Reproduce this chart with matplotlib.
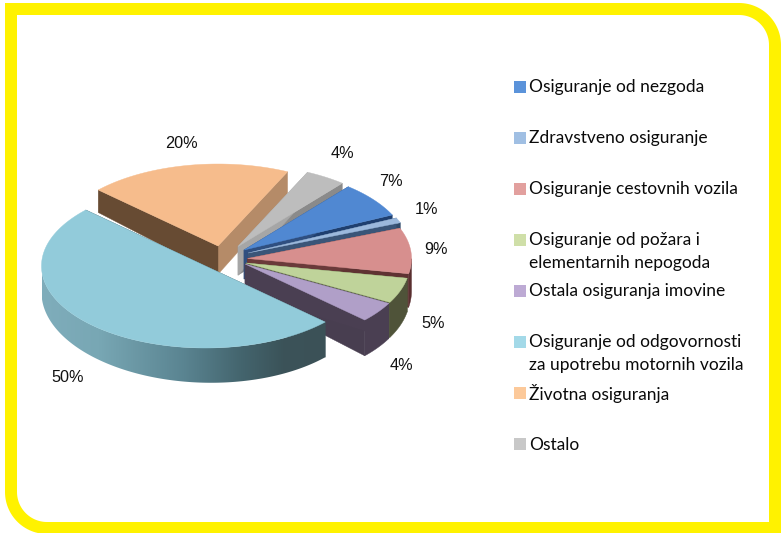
import numpy as np
import matplotlib
matplotlib.use("Agg")
import matplotlib.pyplot as plt
from matplotlib.patches import Polygon, Rectangle
from matplotlib.colors import LinearSegmentedColormap

# ---- data ----
categories = ["Osiguranje od nezgoda", "Zdravstveno osiguranje", "Osiguranje cestovnih vozila",
              "Osiguranje od požara i\nelementarnih nepogoda", "Ostala osiguranja imovine",
              "Osiguranje od odgovornosti\nza upotrebu motornih vozila", "Životna osiguranja", "Ostalo"]
values = [7, 1, 9, 5, 4, 50, 20, 4]
value_labels = ["7%", "1%", "9%", "5%", "4%", "50%", "20%", "4%"]

# ---- styles / layout ----
top_colors = ["#5088d2", "#9bb8dc", "#d78f8e", "#bfd39a", "#b09fc8", "#92cbda", "#f6bc8c", "#bdbdbd"]
legend_colors = ["#5b93da", "#a0bfe3", "#e2a09e", "#cfdfa8", "#bdaad4", "#a3d9e8", "#fcc99a", "#c8c8c8"]
start_face = ["#2f4f80", "#3a5578", "#6a3a3a", "#565f3e", "#4a3f52", "#3c5359", "#674b33", "#a6a6a6"]
end_face = ["#1f3f6f", "#2f4a6a", "#5f3232", "#4b5536", "#483e50", "#3c5359", "#b58b68", "#8a8a8a"]
rim_colors = ["#2f4f80", "#3a5578", "#5a2f30", "#4f5339", "#4a3f52", None, "#674b33", "#8a8a8a"]
draw_rank = [3, 4, 5, 6, 7, 8, 1, 2]
center = (245.0, 255.0)
shift_x = [-1, 3, 2.5, 1, 0, -39.5, -27, -7]
shift_y = [-5, -2, 3.5, 8, 9, 11, -9, -8.5]
radius, squash, start_angle = 164.0, 0.5, 50.5
label_xy = [(391, 181), (427, 210), (436, 249.5), (433, 323), (401, 365), (68, 377.5), (181, 143), (342, 153)]
legend_rows = [86.5, 137.5, 188.5, 239.5, 290.5, 341.5, 393, 444]
FONT_PIE = "Liberation Sans"
FONT_LEG = "Lato"
W, H = 784, 533


def depth(x, y):
    return 22.5 + 0.065 * (y - 190) + 0.018 * (x - 97)


fig = plt.figure(figsize=(W / 100, H / 100), dpi=100, facecolor="white")
ax = fig.add_axes([0, 0, 1, 1])
ax.set_xlim(0, W)
ax.set_ylim(H, 0)
ax.axis("off")

# frame: square top-left and bottom-right, rounded top-right and bottom-left
L, T, R, B, r = 11, 9, 775, 528, 36
a1 = np.radians(np.linspace(90, 0, 30))
a2 = np.radians(np.linspace(270, 180, 30))
fx = np.r_[L, R - r + r * np.cos(a1), R, L + r + r * np.cos(a2)]
fy = np.r_[T, T + r - r * np.sin(a1), B, B - r - r * np.sin(a2)]
ax.add_patch(Polygon(np.c_[fx, fy], closed=True, fill=False, edgecolor="#fff200",
                     lw=12 * 0.72, joinstyle="miter"))

teal_cmap = LinearSegmentedColormap.from_list(
    "rim", [(0, "#7fadbb"), (0.2, "#78a7b4"), (0.5, "#5a8491"), (0.7, "#44656e"), (0.85, "#3b5359"), (1, "#3c5157")])


def pt(cx, cy, deg):
    t = np.radians(deg)
    return cx + radius * np.cos(t), cy - radius * squash * np.sin(t)


def face(cx, cy, deg, color, z):
    x, y = pt(cx, cy, deg)
    quad = [(cx, cy), (x, y), (x, y + depth(x, y)), (cx, cy + depth(cx, cy))]
    ax.add_patch(Polygon(quad, closed=True, facecolor=color, edgecolor=color, lw=0.3, zorder=z))


total = sum(values)
cum = 0.0
for i, v in enumerate(values):
    a_start = start_angle - 360 * cum / total
    a_end = start_angle - 360 * (cum + v) / total
    cum += v
    cx, cy = center[0] + shift_x[i], center[1] + shift_y[i]
    z = 10 + draw_rank[i]
    face(cx, cy, a_end, end_face[i], z)
    face(cx, cy, a_start, start_face[i], z)
    # outer rim, only the part that faces the viewer
    angles = np.linspace(a_start, a_end, 200)
    front = angles[np.sin(np.radians(angles)) < 0]
    if front.size > 1:
        x0, y0 = pt(cx, cy, front)
        y1 = y0 + depth(x0, y0)
        rim = Polygon(np.c_[np.r_[x0, x0[::-1]], np.r_[y0, y1[::-1]]], closed=True,
                      facecolor=rim_colors[i] or "none", edgecolor=rim_colors[i] or "none",
                      lw=0.3, zorder=z)
        ax.add_patch(rim)
        if rim_colors[i] is None:
            grad = np.linspace(0, 1, 512)[None, :]
            im = ax.imshow(grad, cmap=teal_cmap, aspect="auto", zorder=z,
                           extent=(x0.min(), x0.max(), y1.max(), y0.min()))
            im.set_clip_path(rim)
            ax.set_xlim(0, W)
            ax.set_ylim(H, 0)
    xs, ys = pt(cx, cy, angles)
    ax.add_patch(Polygon(np.c_[np.r_[cx, xs], np.r_[cy, ys]], closed=True,
                         facecolor=top_colors[i], edgecolor=top_colors[i], lw=0.3, zorder=z + 0.5))
    ax.text(*label_xy[i], value_labels[i], ha="center", va="center", family=FONT_PIE,
            fontsize=11.7, color="#111111", zorder=40)

# legend
for name, col, yc in zip(categories, legend_colors, legend_rows):
    ax.add_patch(Rectangle((514, yc - 6), 12, 12, facecolor=col, edgecolor="none", zorder=30))
    for k, line in enumerate(name.split("\n")):
        ax.text(529, yc + 0.8 + k * 23, line, ha="left", va="center", family=FONT_LEG,
                fontsize=12.5, color="#0a0a0a", zorder=40)

fig.savefig("out.png", dpi=100, facecolor="white")
